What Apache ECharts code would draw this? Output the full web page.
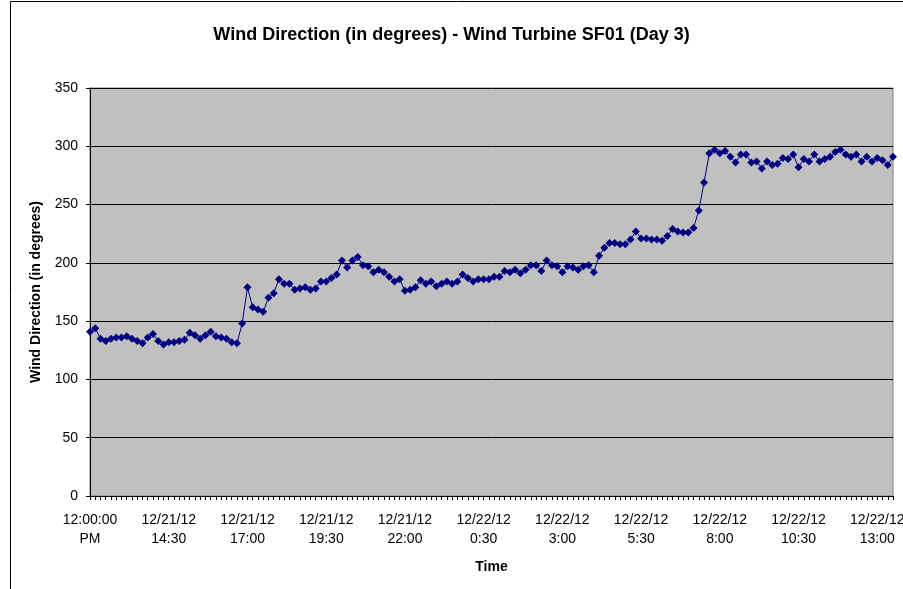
<!DOCTYPE html>
<html>
<head>
<meta charset="utf-8">
<script src="https://cdn.jsdelivr.net/npm/echarts@6/dist/echarts.min.js"></script>
<style>
  html, body { margin: 0; padding: 0; background: #fff; }
  #chart { width: 903px; height: 589px; }
</style>
</head>
<body>
<div id="chart"></div>
<script>
// readings every 10 minutes, starting 12/21/12 12:00 PM
const startTime = new Date(2012, 11, 21, 12, 0);
const stepMinutes = 10;

const tickLabels = [
    '12:00:00\nPM', '12/21/12\n14:30', '12/21/12\n17:00', '12/21/12\n19:30',
    '12/21/12\n22:00', '12/22/12\n0:30', '12/22/12\n3:00', '12/22/12\n5:30',
    '12/22/12\n8:00', '12/22/12\n10:30', '12/22/12\n13:00'
];

const windDirection = [
    141, 144, 135, 133, 135, 136, 136, 137, 135, 133,
    131, 136, 139, 133, 130, 132, 132, 133, 134, 140,
    138, 135, 138, 141, 137, 136, 135, 132, 131, 148,
    179, 162, 160, 158, 170, 174, 186, 182, 182, 177,
    178, 179, 177, 178, 184, 184, 187, 190, 202, 196,
    202, 205, 198, 197, 192, 194, 192, 188, 184, 186,
    176, 177, 179, 185, 182, 184, 180, 182, 184, 182,
    184, 190, 187, 184, 186, 186, 186, 188, 188, 193,
    192, 194, 191, 194, 198, 198, 193, 202, 198, 197,
    192, 197, 196, 194, 197, 198, 192, 206, 213, 217,
    217, 216, 216, 220, 227, 221, 221, 220, 220, 219,
    223, 229, 227, 226, 226, 230, 245, 269, 294, 297,
    294, 296, 291, 286, 293, 293, 286, 287, 281, 287,
    284, 285, 290, 289, 293, 282, 289, 287, 293, 287,
    289, 291, 295, 297, 293, 291, 293, 287, 291, 287,
    290, 288, 284, 291
];

const categories = windDirection.map((v, i) => {
    const t = new Date(startTime.getTime() + i * stepMinutes * 60000);
    return (t.getMonth() + 1) + '/' + t.getDate() + '/' + (t.getFullYear() % 100) + ' ' +
        t.getHours() + ':' + String(t.getMinutes()).padStart(2, '0');
});

const chart = echarts.init(document.getElementById('chart'));
const font = 'Liberation Sans, Arial, sans-serif';

chart.setOption({
    animation: false,
    textStyle: { fontFamily: font },
    title: {
        text: 'Wind Direction (in degrees) - Wind Turbine SF01 (Day 3)',
        left: 'center',
        top: 21,
        textStyle: { fontFamily: font, fontSize: 18, fontWeight: 'bold', color: '#000' }
    },
    graphic: [{
        type: 'rect',
        shape: { x: 10.5, y: 1.5, width: 1000, height: 1000 },
        style: { fill: 'none', stroke: '#000', lineWidth: 1 },
        silent: true
    }],
    grid: {
        left: 90, right: 10, top: 88, bottom: 93,
        containLabel: false,
        outerBoundsMode: 'none',
        show: true,
        backgroundColor: '#C0C0C0',
        borderColor: '#808080',
        borderWidth: 1
    },
    xAxis: {
        type: 'category',
        data: categories,
        boundaryGap: false,
        name: 'Time',
        nameLocation: 'middle',
        nameGap: 64,
        nameTextStyle: { fontFamily: font, fontSize: 14, fontWeight: 'bold', color: '#000' },
        axisLine: { lineStyle: { color: '#000', width: 1 } },
        axisTick: { show: true, interval: 0, length: 4, lineStyle: { color: '#000' } },
        axisLabel: {
            interval: 14,
            color: '#000',
            fontSize: 14,
            lineHeight: 19,
            margin: 15,
            formatter: (value, index) => tickLabels[index / 15] || ''
        },
        splitLine: { show: false }
    },
    yAxis: {
        type: 'value',
        min: 0,
        max: 350,
        interval: 50,
        name: 'Wind Direction (in degrees)',
        nameLocation: 'middle',
        nameGap: 47,
        nameTextStyle: { fontFamily: font, fontSize: 14, fontWeight: 'bold', color: '#000' },
        axisLine: { show: true, lineStyle: { color: '#000', width: 1 } },
        axisTick: { show: true, length: 4, lineStyle: { color: '#000' } },
        axisLabel: { color: '#000', fontSize: 14, margin: 12 },
        splitLine: { show: true, lineStyle: { color: '#000', width: 1 } }
    },
    series: [{
        name: 'Wind Direction',
        type: 'line',
        data: windDirection,
        symbol: 'diamond',
        symbolSize: 8,
        showAllSymbol: true,
        itemStyle: { color: '#000080' },
        lineStyle: { color: '#000080', width: 1 }
    }]
});
</script>
</body>
</html>
